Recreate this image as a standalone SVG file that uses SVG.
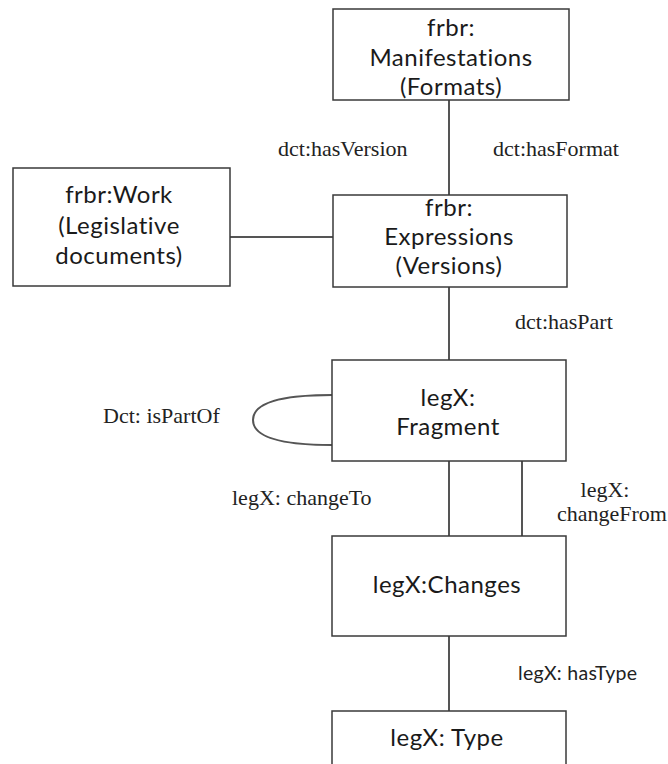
<svg xmlns="http://www.w3.org/2000/svg" width="668" height="764" viewBox="0 0 668 764">
<style>
.box{fill:#fff;stroke:#3a3a3a;stroke-width:1.5}
.bt{font-family:Lato,"Open Sans",sans-serif;font-size:24px;letter-spacing:0.5px;fill:#1a1a1a;text-anchor:middle}
.lbl{font-family:"Liberation Serif",serif;font-size:22px;fill:#222}
.lbls{font-family:Lato,"Open Sans",sans-serif;font-size:19.5px;letter-spacing:0.3px;fill:#222}
.c{stroke:#555;stroke-width:2;fill:none}
</style>
<rect width="668" height="764" fill="#fff"/>
<g id="connectors">
<line class="c" x1="449" y1="100" x2="449" y2="195"/>
<line class="c" x1="230" y1="237" x2="333" y2="237"/>
<line class="c" x1="449" y1="287" x2="449" y2="360"/>
<path class="c" stroke-width="1.5" d="M332,395 C300,395 253,398 253,420 C253,442 300,445 332,445"/>
<line class="c" x1="449" y1="461" x2="449" y2="536"/>
<line class="c" x1="522" y1="461" x2="522" y2="536"/>
<line class="c" x1="449" y1="636" x2="449" y2="711"/>
<text class="lbl" x="278" y="156">dct:hasVersion</text>
<text class="lbl" x="493" y="156">dct:hasFormat</text>
<text class="lbl" x="515" y="329">dct:hasPart</text>
<text class="lbl" x="103" y="423">Dct: isPartOf</text>
<text class="lbl" x="232" y="505">legX: changeTo</text>
<text class="lbl" x="605" y="497" text-anchor="middle">legX:</text>
<text class="lbl" x="557" y="521">changeFrom</text>
<text class="lbls" x="518" y="680">legX: hasType</text>
</g>
<g id="manifestations">
<rect class="box" x="333" y="9" width="236" height="91"/>
<text class="bt" x="451" y="36">frbr:</text>
<text class="bt" x="451" y="66">Manifestations</text>
<text class="bt" x="451" y="95">(Formats)</text>
</g>
<g id="work">
<rect class="box" x="13" y="168" width="217" height="118"/>
<text class="bt" x="119" y="203">frbr:Work</text>
<text class="bt" x="119" y="234">(Legislative</text>
<text class="bt" x="119" y="264">documents)</text>
</g>
<g id="expressions">
<rect class="box" x="333" y="195" width="234" height="92"/>
<text class="bt" x="449" y="216">frbr:</text>
<text class="bt" x="449" y="245">Expressions</text>
<text class="bt" x="449" y="274">(Versions)</text>
</g>
<g id="fragment">
<rect class="box" x="332" y="360" width="234" height="101"/>
<text class="bt" x="448" y="406">legX:</text>
<text class="bt" x="448" y="435">Fragment</text>
</g>
<g id="changes">
<rect class="box" x="332" y="536" width="234" height="100"/>
<text class="bt" x="447" y="593">legX:Changes</text>
</g>
<g id="type">
<rect class="box" x="332" y="711" width="234" height="70"/>
<text class="bt" x="447" y="746">legX: Type</text>
</g>
</svg>
